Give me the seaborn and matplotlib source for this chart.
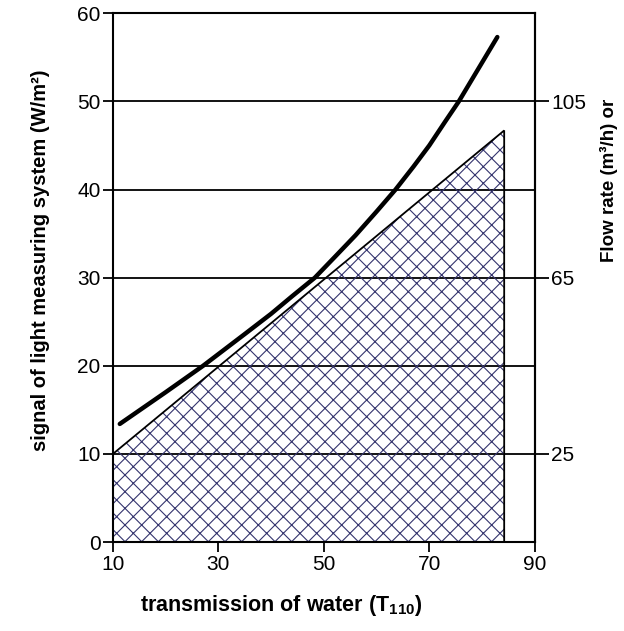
import matplotlib
matplotlib.use("Agg")
import matplotlib.pyplot as plt
import seaborn as sns
import pandas as pd
import numpy as np

# ---- data ----
curve_x = [11.3, 20, 27.1, 35, 40, 44, 48.3, 52, 56, 60, 63.6, 67, 70, 73, 75.6, 78, 80, 82.9]
curve_y = [13.4, 17.0, 20.0, 23.6, 25.9, 27.9, 30.0, 32.3, 34.8, 37.5, 40.0, 42.6, 45.0, 47.7, 50.0, 52.4, 54.4, 57.3]

area_x = [10, 84.2]
area_y = [10, 46.7]

x_ticks = [10, 30, 50, 70, 90]
y_ticks = [0, 10, 20, 30, 40, 50, 60]
grid_y = [10, 20, 30, 40, 50]
flow_ticks = [25, 65, 105]

sns.set_style("white")
plt.rcParams['font.family'] = ['Liberation Sans', 'DejaVu Sans']
plt.rcParams['mathtext.fontset'] = 'custom'
plt.rcParams['mathtext.rm'] = 'Liberation Sans'
plt.rcParams['mathtext.bf'] = 'Liberation Sans:bold'
plt.rcParams['hatch.linewidth'] = 0.8
for k in ['text.color', 'axes.labelcolor', 'xtick.color', 'ytick.color']:
    plt.rcParams[k] = 'black'

fig = plt.figure(figsize=(6.24, 6.31), dpi=100)
ax = fig.add_axes([0.181, 0.141, 0.676, 0.838])

# horizontal grid lines
for g in grid_y:
    ax.axhline(g, color='black', lw=1.3, zorder=1)

# hatched area
ax.fill_between(area_x, [0, 0], area_y, facecolor='none', edgecolor='#34346e',
                hatch='xx', linewidth=0, zorder=2)
ax.plot([area_x[0], area_x[0], area_x[1], area_x[1]],
        [0, area_y[0], area_y[1], 0], color='black', lw=1.3, zorder=3,
        solid_joinstyle='miter')

# curve
df = pd.DataFrame({'x': curve_x, 'y': curve_y})
sns.lineplot(data=df, x='x', y='y', ax=ax, color='black', lw=3.2, zorder=4,
             sort=False)

ax.set_xlim(10, 90)
ax.set_ylim(0, 60)
ax.set_xticks(x_ticks)
ax.set_yticks(y_ticks)
ax.tick_params(axis='both', direction='out', length=7, width=1.3,
               labelsize=15, color='black', labelcolor='black', pad=2,
               left=True, bottom=True)
for s in ax.spines.values():
    s.set_color('black')
    s.set_linewidth(1.5)

ax.set_xlabel("")
ax.set_ylabel("signal of light measuring system (W/m²)", fontsize=14.5,
              fontweight='bold')
ax.yaxis.set_label_coords((50 - 113) / 422, (542 - 260) / 529)

sec = ax.secondary_yaxis('right', functions=(lambda s: 2 * s + 5,
                                             lambda f: (f - 5) / 2))
sec.set_yticks(flow_ticks)
sec.set_yticklabels([str(t) for t in flow_ticks])
sec.tick_params(axis='y', direction='out', length=10, width=1.3,
                labelsize=15, pad=2, color='black', labelcolor='black')
sec.spines['right'].set_linewidth(1.5)

fig.text(281 / 624, 1 - 605 / 631, r"transmission of water (T$_{\mathbf{110}}$)",
         ha='center', va='center', fontsize=15.5, fontweight='bold')
fig.text(609 / 624, 1 - 180 / 631, "Flow rate (m³/h) or", rotation=90,
         ha='center', va='center', fontsize=13.5, fontweight='bold')

fig.savefig("out.png", dpi=100)
